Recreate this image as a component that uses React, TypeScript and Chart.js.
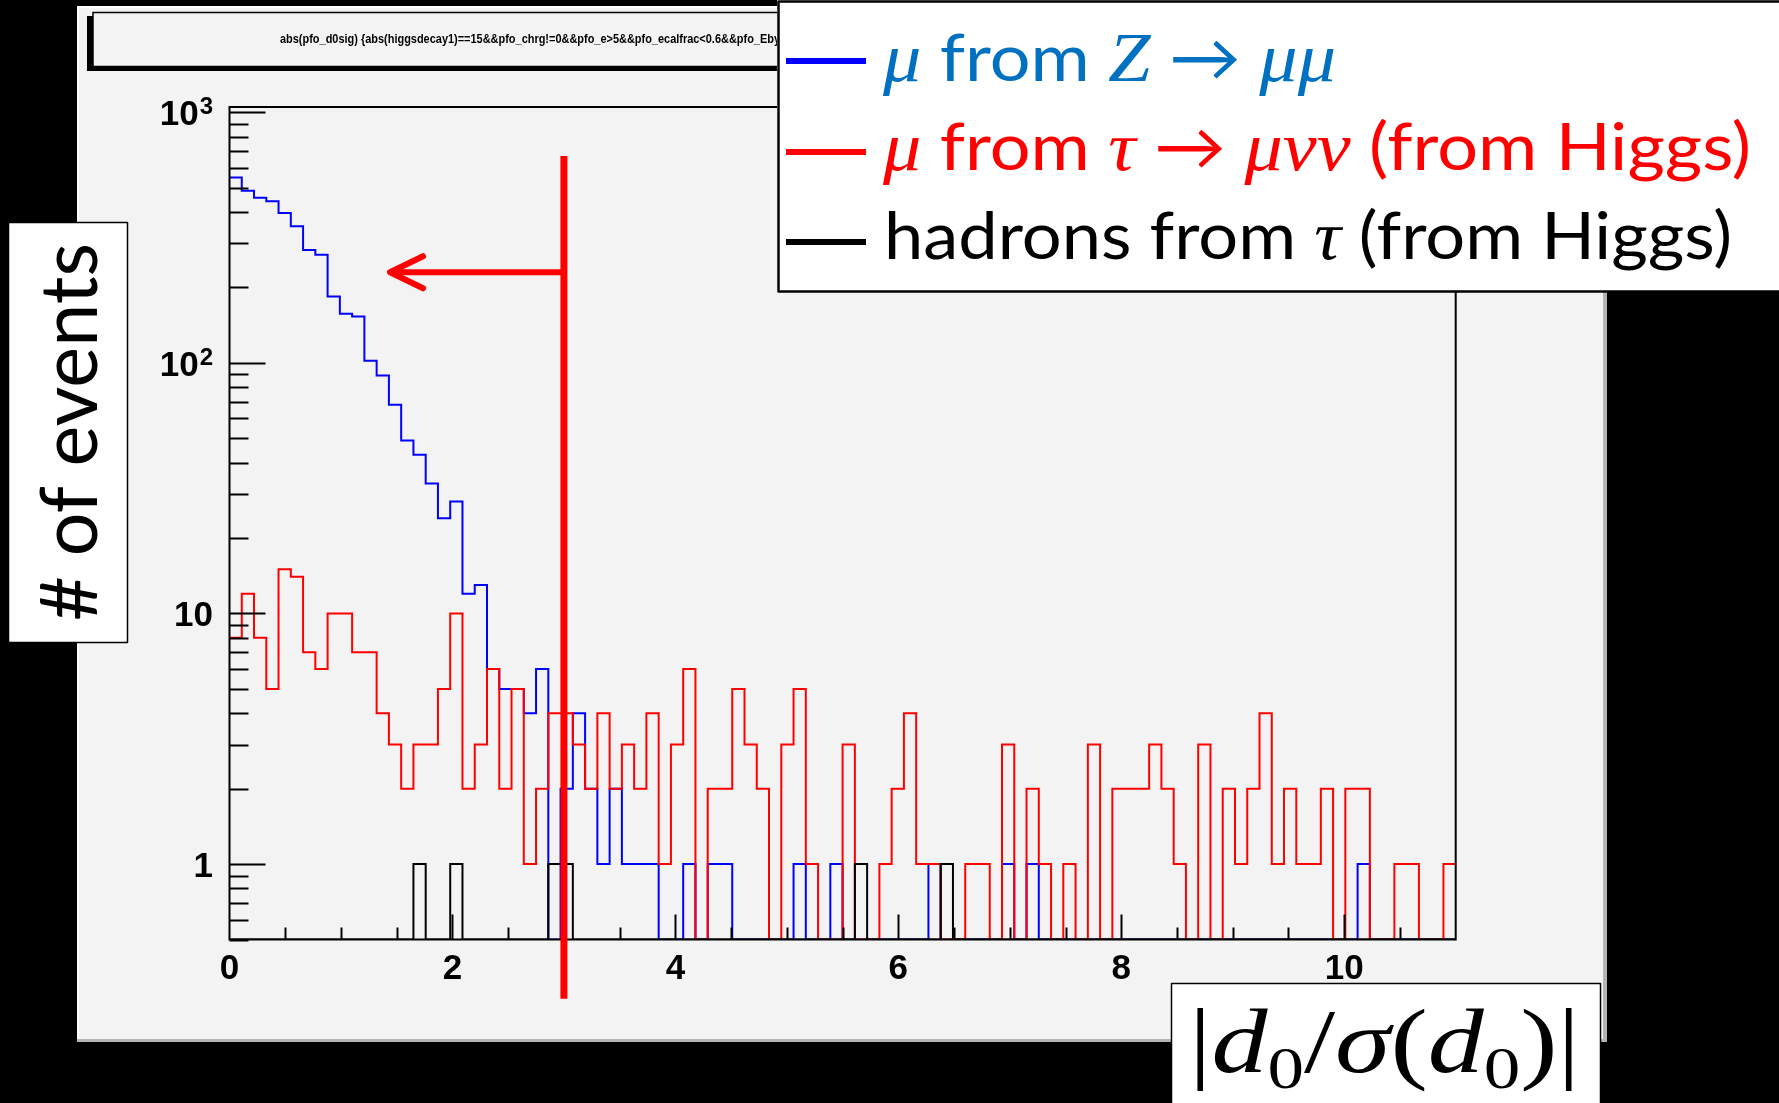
import React, { useEffect, useRef } from "react";
import { Chart, registerables } from "chart.js";

Chart.register(...registerables);

// ---------- data ----------
const BIN_WIDTH = 0.11;
const X_MIN = 0;
const X_MAX = 11;
const Y_MIN = 0.5;
const Y_MAX = 1050;

// mu from Z -> mu mu  (blue)
const BLUE_Z_MUMU = [
  549, 486, 456, 442, 396, 351, 282, 270, 184, 157,
  153, 102, 89, 68, 49, 43, 33, 24, 28, 12,
  13, 6, 5, 5, 4, 6, 0, 2, 4, 2,
  1, 2, 1, 1, 1, 0, 0, 1, 0, 1,
  1, 0, 0, 0, 0, 0, 1, 0, 0, 1,
  0, 0, 0, 0, 0, 0, 0, 1, 0, 0,
  0, 0, 0, 1, 0, 1, 0, 0, 0, 0,
  0, 0, 0, 0, 0, 0, 0, 0, 0, 0,
  0, 0, 0, 0, 0, 0, 0, 0, 0, 0,
  0, 0, 1, 0, 0, 0, 0, 0, 0, 0,
];

// mu from tau -> mu nu nu (from Higgs)  (red)
const RED_TAU_MU = [
  8, 12, 8, 5, 15, 14, 7, 6, 10, 10,
  7, 7, 4, 3, 2, 3, 3, 5, 10, 2,
  3, 6, 2, 5, 1, 2, 4, 4, 3, 2,
  4, 2, 3, 2, 4, 1, 3, 6, 0, 2,
  2, 5, 3, 2, 0, 3, 5, 1, 0, 0,
  3, 0, 0, 1, 2, 4, 1, 1, 0, 0,
  1, 1, 0, 3, 0, 2, 1, 0, 1, 0,
  3, 0, 2, 2, 2, 3, 2, 1, 0, 3,
  0, 2, 1, 2, 4, 1, 2, 1, 1, 2,
  0, 2, 2, 0, 0, 1, 1, 0, 0, 1,
];

// hadrons from tau (from Higgs)  (black)
const BLACK_TAU_HADRONS = [
  0, 0, 0, 0, 0, 0, 0, 0, 0, 0,
  0, 0, 0, 0, 0, 1, 0, 0, 1, 0,
  0, 0, 0, 0, 0, 0, 1, 1, 0, 0,
  0, 0, 0, 0, 0, 0, 0, 0, 0, 0,
  0, 0, 0, 0, 0, 0, 0, 0, 0, 0,
  0, 1, 0, 0, 0, 0, 0, 0, 1, 0,
  0, 0, 0, 0, 0, 0, 0, 0, 0, 0,
  0, 0, 0, 0, 0, 0, 0, 0, 0, 0,
  0, 0, 0, 0, 0, 0, 0, 0, 0, 0,
  0, 0, 0, 0, 0, 0, 0, 0, 0, 0,
];

const X_TICK_VALUES = [0, 2, 4, 6, 8, 10];
const X_TICK_LABELS = ["0", "2", "4", "6", "8", "10"];
const Y_TICK_VALUES = [1, 10, 100, 1000];
const Y_TICK_BASES = ["1", "10", "10", "10"];
const Y_TICK_EXPONENTS = ["", "", "2", "3"];

// cut annotation
const CUT_VALUE = 3;
const CUT_TOP = 670;
const CUT_BOTTOM = 0.29;
const ARROW_TIP = 1.44;
const ARROW_LEVEL = 230;

const TITLE_TEXT =
  "abs(pfo_d0sig) {abs(higgsdecay1)==15&&pfo_chrg!=0&&pfo_e>5&&pfo_ecalfrac<0.6&&pfo_Eby";

const LEGEND_BLUE = "μ from Z → μμ";
const LEGEND_RED = "μ from τ → μνν (from Higgs)";
const LEGEND_BLACK = "hadrons from τ (from Higgs)";

// ---------- helpers ----------
const W = 1779;
const H = 1103;
const CANVAS_GRAY = "#f3f3f3";
const SANS = "Lato, 'Open Sans', 'DejaVu Sans', sans-serif";
const MATH = "'Liberation Serif', 'DejaVu Serif', serif";
const ROOTFONT = "'Liberation Sans', Arial, sans-serif";

function toSteps(values: number[]) {
  const pts = values.map((v, i) => ({ x: X_MIN + i * BIN_WIDTH, y: v > 0 ? v : Y_MIN }));
  const last = values[values.length - 1];
  pts.push({ x: X_MIN + values.length * BIN_WIDTH, y: last > 0 ? last : Y_MIN });
  return pts;
}

type Run = { t: string; font: string; dy?: number };

function drawRuns(ctx: CanvasRenderingContext2D, runs: Run[], x: number, y: number, targetW?: number) {
  let total = 0;
  const widths: number[] = [];
  for (const r of runs) {
    ctx.font = r.font;
    const w = ctx.measureText(r.t).width;
    widths.push(w);
    total += w;
  }
  const s = targetW ? targetW / total : 1;
  ctx.save();
  ctx.translate(x, y);
  ctx.scale(s, 1);
  ctx.textBaseline = "alphabetic";
  ctx.textAlign = "left";
  let cx = 0;
  runs.forEach((r, i) => {
    ctx.font = r.font;
    ctx.fillText(r.t, cx, r.dy || 0);
    cx += widths[i];
  });
  ctx.restore();
}

function mathRuns(text: string, size: number): Run[] {
  const runs: Run[] = [];
  for (const ch of text) {
    const isMath = "μτνZ".includes(ch);
    const font = isMath ? `italic ${size + 4}px ${MATH}` : `${size}px ${SANS}`;
    const lastRun = runs[runs.length - 1];
    if (lastRun && lastRun.font === font) lastRun.t += ch;
    else runs.push({ t: ch, font });
  }
  return runs;
}

const slidePlugin = {
  id: "slide",
  beforeDraw(chart: any) {
    const ctx: CanvasRenderingContext2D = chart.ctx;
    ctx.save();
    ctx.fillStyle = "#000";
    ctx.fillRect(0, 0, W, H);
    // ROOT canvas
    ctx.fillStyle = CANVAS_GRAY;
    ctx.fillRect(77, 6, 1530, 1036);
    ctx.fillStyle = "#ffffff";
    ctx.fillRect(77, 6, 1530, 2);
    ctx.fillRect(77, 6, 2, 1036);
    ctx.fillStyle = "#b4b4b4";
    ctx.fillRect(77, 1039, 1530, 3);
    ctx.fillRect(1603, 6, 4, 1036);
    // title pave
    ctx.fillStyle = "#000";
    ctx.fillRect(87, 16, 6, 55);
    ctx.fillRect(87, 66, 720, 5);
    ctx.strokeStyle = "#000";
    ctx.lineWidth = 1.5;
    ctx.strokeRect(93, 12.5, 720, 54);
    ctx.fillStyle = "#000";
    drawRuns(ctx, [{ t: TITLE_TEXT, font: `bold 13px ${ROOTFONT}` }], 280, 43, 500);
    ctx.restore();
  },
  afterDatasetsDraw(chart: any) {
    const ctx: CanvasRenderingContext2D = chart.ctx;
    const { left, right, top, bottom } = chart.chartArea;
    const xs = chart.scales.x;
    const ys = chart.scales.y;
    ctx.save();
    ctx.strokeStyle = "#000";
    ctx.lineWidth = 2;
    ctx.strokeRect(left, top, right - left, bottom - top);
    // y ticks (log, inward)
    for (let d = -1; d <= 3; d++) {
      for (let m = 1; m <= 9; m++) {
        const v = m * Math.pow(10, d);
        if (v < Y_MIN || v > Y_MAX) continue;
        const y = Math.round(ys.getPixelForValue(v)) + 0.5;
        const len = m === 1 ? 36 : 19;
        ctx.beginPath();
        ctx.moveTo(left, y);
        ctx.lineTo(left + len, y);
        ctx.stroke();
      }
    }
    // x ticks (inward)
    for (let v = X_MIN + 0.5; v < X_MAX; v += 0.5) {
      const x = Math.round(xs.getPixelForValue(v)) + 0.5;
      const len = Math.abs(v % 2) < 1e-6 ? 25 : 12;
      ctx.beginPath();
      ctx.moveTo(x, bottom);
      ctx.lineTo(x, bottom - len);
      ctx.stroke();
    }
    // x labels
    ctx.fillStyle = "#000";
    ctx.textBaseline = "alphabetic";
    ctx.textAlign = "center";
    ctx.font = `bold 35px ${ROOTFONT}`;
    X_TICK_VALUES.forEach((v, i) => {
      ctx.fillText(X_TICK_LABELS[i], xs.getPixelForValue(v), 979);
    });
    // y labels
    const rightEdge = 213;
    Y_TICK_VALUES.forEach((v, i) => {
      const yb = ys.getPixelForValue(v) + 13;
      const exp = Y_TICK_EXPONENTS[i];
      ctx.textAlign = "right";
      let xr = rightEdge;
      if (exp) {
        ctx.font = `bold 24px ${ROOTFONT}`;
        ctx.fillText(exp, xr, yb - 11);
        xr -= ctx.measureText(exp).width + 1;
      }
      ctx.font = `bold 35px ${ROOTFONT}`;
      ctx.fillText(Y_TICK_BASES[i], xr, yb);
    });
    ctx.restore();
  },
  afterDraw(chart: any) {
    const ctx: CanvasRenderingContext2D = chart.ctx;
    const xs = chart.scales.x;
    const ys = chart.scales.y;
    ctx.save();
    // cut line + arrow
    const xc = xs.getPixelForValue(CUT_VALUE);
    ctx.strokeStyle = "#ff0000";
    ctx.lineWidth = 7;
    ctx.beginPath();
    ctx.moveTo(xc, ys.getPixelForValue(CUT_TOP));
    ctx.lineTo(xc, ys.getPixelForValue(CUT_BOTTOM));
    ctx.stroke();
    const ya = ys.getPixelForValue(ARROW_LEVEL);
    const xt = xs.getPixelForValue(ARROW_TIP);
    ctx.lineWidth = 6;
    ctx.lineCap = "round";
    ctx.lineJoin = "round";
    ctx.beginPath();
    ctx.moveTo(xc, ya);
    ctx.lineTo(xt + 2, ya);
    ctx.stroke();
    ctx.beginPath();
    ctx.moveTo(xt + 33, ya - 16);
    ctx.lineTo(xt, ya);
    ctx.lineTo(xt + 33, ya + 16);
    ctx.stroke();
    ctx.lineCap = "butt";

    // legend box
    ctx.fillStyle = "#ffffff";
    ctx.fillRect(777, 0, W - 777, 292);
    ctx.strokeStyle = "#000";
    ctx.lineWidth = 2.5;
    ctx.strokeRect(778.5, 1.5, W, 290);
    const samples: [string, number][] = [["#0000ff", 61], ["#ff0000", 152], ["#000000", 242]];
    ctx.lineWidth = 6;
    samples.forEach(([c, y]) => {
      ctx.strokeStyle = c;
      ctx.beginPath();
      ctx.moveTo(786, y);
      ctx.lineTo(866, y);
      ctx.stroke();
    });
    ctx.fillStyle = "#0070c0";
    drawRuns(ctx, mathRuns(LEGEND_BLUE, 66), 883, 81, 453);
    ctx.fillStyle = "#ff0000";
    drawRuns(ctx, mathRuns(LEGEND_RED, 66), 883, 170, 868);
    ctx.fillStyle = "#000000";
    drawRuns(ctx, mathRuns(LEGEND_BLACK, 66), 884, 259, 848);

    // y-axis title box
    ctx.fillStyle = "#ffffff";
    ctx.fillRect(8, 222, 120, 421);
    ctx.strokeStyle = "#000";
    ctx.lineWidth = 1.5;
    ctx.strokeRect(8.5, 222.5, 119, 420);
    ctx.fillStyle = "#000";
    ctx.save();
    ctx.translate(97, 621);
    ctx.rotate(-Math.PI / 2);
    drawRuns(ctx, [{ t: "# of events", font: `80px ${SANS}` }], 0, 0, 378);
    ctx.restore();

    // x-axis title box
    ctx.fillStyle = "#ffffff";
    ctx.fillRect(1171, 983, 430, 130);
    ctx.strokeStyle = "#000";
    ctx.lineWidth = 1.5;
    ctx.strokeRect(1171.5, 983.5, 429, 130);
    ctx.fillStyle = "#000";
    const big = 92;
    const sub = 60;
    drawRuns(
      ctx,
      [
        { t: "|", font: `${big}px ${MATH}` },
        { t: "d", font: `italic ${big}px ${MATH}` },
        { t: "0", font: `${sub}px ${MATH}`, dy: 16 },
        { t: "/", font: `${big}px ${MATH}` },
        { t: "σ", font: `italic ${big}px ${MATH}` },
        { t: "(", font: `${big}px ${MATH}` },
        { t: "d", font: `italic ${big}px ${MATH}` },
        { t: "0", font: `${sub}px ${MATH}`, dy: 16 },
        { t: ")", font: `${big}px ${MATH}` },
        { t: "|", font: `${big}px ${MATH}` },
      ],
      1189,
      1072,
      391
    );
    ctx.restore();
  },
};

export default function App() {
  const ref = useRef<HTMLCanvasElement>(null);
  useEffect(() => {
    const canvas = ref.current;
    if (!canvas) return;
    const line = { pointRadius: 0, borderWidth: 2, fill: false, stepped: "before" as const, tension: 0 };
    const chart = new Chart(canvas, {
      type: "line",
      data: {
        datasets: [
          { label: LEGEND_BLACK, data: toSteps(BLACK_TAU_HADRONS), borderColor: "#000000", order: 1, ...line },
          { label: LEGEND_RED, data: toSteps(RED_TAU_MU), borderColor: "#ff0000", order: 2, ...line },
          { label: LEGEND_BLUE, data: toSteps(BLUE_Z_MUMU), borderColor: "#0000ff", order: 3, ...line },
        ],
      },
      options: {
        animation: false,
        responsive: false,
        devicePixelRatio: 1,
        events: [],
        layout: { padding: { left: 229.5, right: 323.3, top: 107, bottom: 163.5 } },
        plugins: { legend: { display: false }, title: { display: false }, tooltip: { enabled: false } },
        scales: {
          x: { type: "linear", min: X_MIN, max: X_MAX, display: false },
          y: { type: "logarithmic", min: Y_MIN, max: Y_MAX, display: false },
        },
      },
      plugins: [slidePlugin],
    } as any);
    return () => chart.destroy();
  }, []);
  return (
    <div style={{ position: "fixed", left: 0, top: 0, width: W, height: H, background: "#000" }}>
      <canvas ref={ref} width={W} height={H} style={{ display: "block", width: W, height: H }} />
    </div>
  );
}
